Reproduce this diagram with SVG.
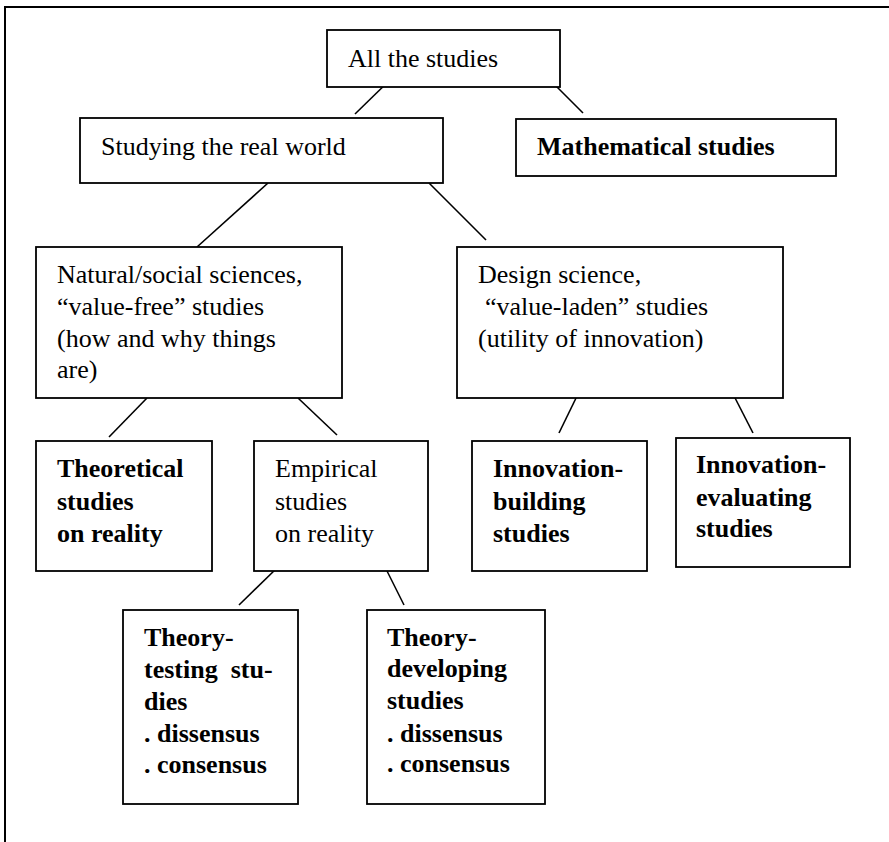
<svg xmlns="http://www.w3.org/2000/svg" width="889" height="842" viewBox="0 0 889 842">
<style>
.box{fill:#fff;stroke:#000;stroke-width:1.8}
.t{font-family:'Liberation Serif',Tinos,'Times New Roman',Times,'Noto Serif','DejaVu Serif',serif;font-size:26px;fill:#000}
.b{font-weight:bold}
.c line{stroke:#000;stroke-width:1.6}
.frame{fill:none;stroke:#000;stroke-width:2}
</style>
<rect width="889" height="842" fill="#fff"/>
<polyline class="frame" points="5,842 5,7 889,7"/>
<g class="c" id="connectors">
<line x1="395" y1="75" x2="355" y2="114"/>
<line x1="545" y1="75" x2="583" y2="113"/>
<line x1="268" y1="183" x2="197" y2="247"/>
<line x1="429" y1="183" x2="486" y2="240"/>
<line x1="147" y1="398" x2="109" y2="437"/>
<line x1="298" y1="398" x2="337" y2="435"/>
<line x1="578" y1="394" x2="559" y2="433"/>
<line x1="733" y1="394" x2="753" y2="433"/>
<line x1="278" y1="567" x2="239" y2="605"/>
<line x1="385" y1="567" x2="404" y2="605"/>
</g>
<g id="all">
<rect class="box" x="327" y="30" width="233" height="57"/>
<text class="t" x="348" y="67">All the studies</text>
</g>
<g id="real">
<rect class="box" x="80" y="118" width="363" height="65"/>
<text class="t" x="101" y="155">Studying the real world</text>
</g>
<g id="math">
<rect class="box" x="516" y="119" width="320" height="57"/>
<text class="t b" x="537" y="155">Mathematical studies</text>
</g>
<g id="natural">
<rect class="box" x="36" y="247" width="306" height="151"/>
<text class="t" x="57" y="283">Natural/social sciences,</text>
<text class="t" x="57" y="315">“value-free” studies</text>
<text class="t" x="57" y="347">(how and why things</text>
<text class="t" x="57" y="378">are)</text>
</g>
<g id="design">
<rect class="box" x="457" y="247" width="326" height="151"/>
<text class="t" x="478" y="283">Design science,</text>
<text class="t" x="485" y="315">“value-laden” studies</text>
<text class="t" x="478" y="347">(utility of innovation)</text>
</g>
<g id="theoretical">
<rect class="box" x="36" y="441" width="176" height="130"/>
<text class="t b" x="57" y="477">Theoretical</text>
<text class="t b" x="57" y="510">studies</text>
<text class="t b" x="57" y="542">on reality</text>
</g>
<g id="empirical">
<rect class="box" x="254" y="441" width="174" height="130"/>
<text class="t" x="275" y="477">Empirical</text>
<text class="t" x="275" y="510">studies</text>
<text class="t" x="275" y="542">on reality</text>
</g>
<g id="building">
<rect class="box" x="472" y="441" width="175" height="130"/>
<text class="t b" x="493" y="477">Innovation-</text>
<text class="t b" x="493" y="510">building</text>
<text class="t b" x="493" y="542">studies</text>
</g>
<g id="evaluating">
<rect class="box" x="676" y="438" width="174" height="129"/>
<text class="t b" x="696" y="473">Innovation-</text>
<text class="t b" x="696" y="506">evaluating</text>
<text class="t b" x="696" y="537">studies</text>
</g>
<g id="testing">
<rect class="box" x="123" y="610" width="175" height="194"/>
<text class="t b" x="144" y="646">Theory-</text>
<text class="t b" x="144" y="678" xml:space="preserve">testing  stu-</text>
<text class="t b" x="144" y="710">dies</text>
<text class="t b" x="144" y="742">. dissensus</text>
<text class="t b" x="144" y="773">. consensus</text>
</g>
<g id="developing">
<rect class="box" x="367" y="610" width="178" height="194"/>
<text class="t b" x="387" y="646">Theory-</text>
<text class="t b" x="387" y="677">developing</text>
<text class="t b" x="387" y="709">studies</text>
<text class="t b" x="387" y="742">. dissensus</text>
<text class="t b" x="387" y="772">. consensus</text>
</g>
</svg>
